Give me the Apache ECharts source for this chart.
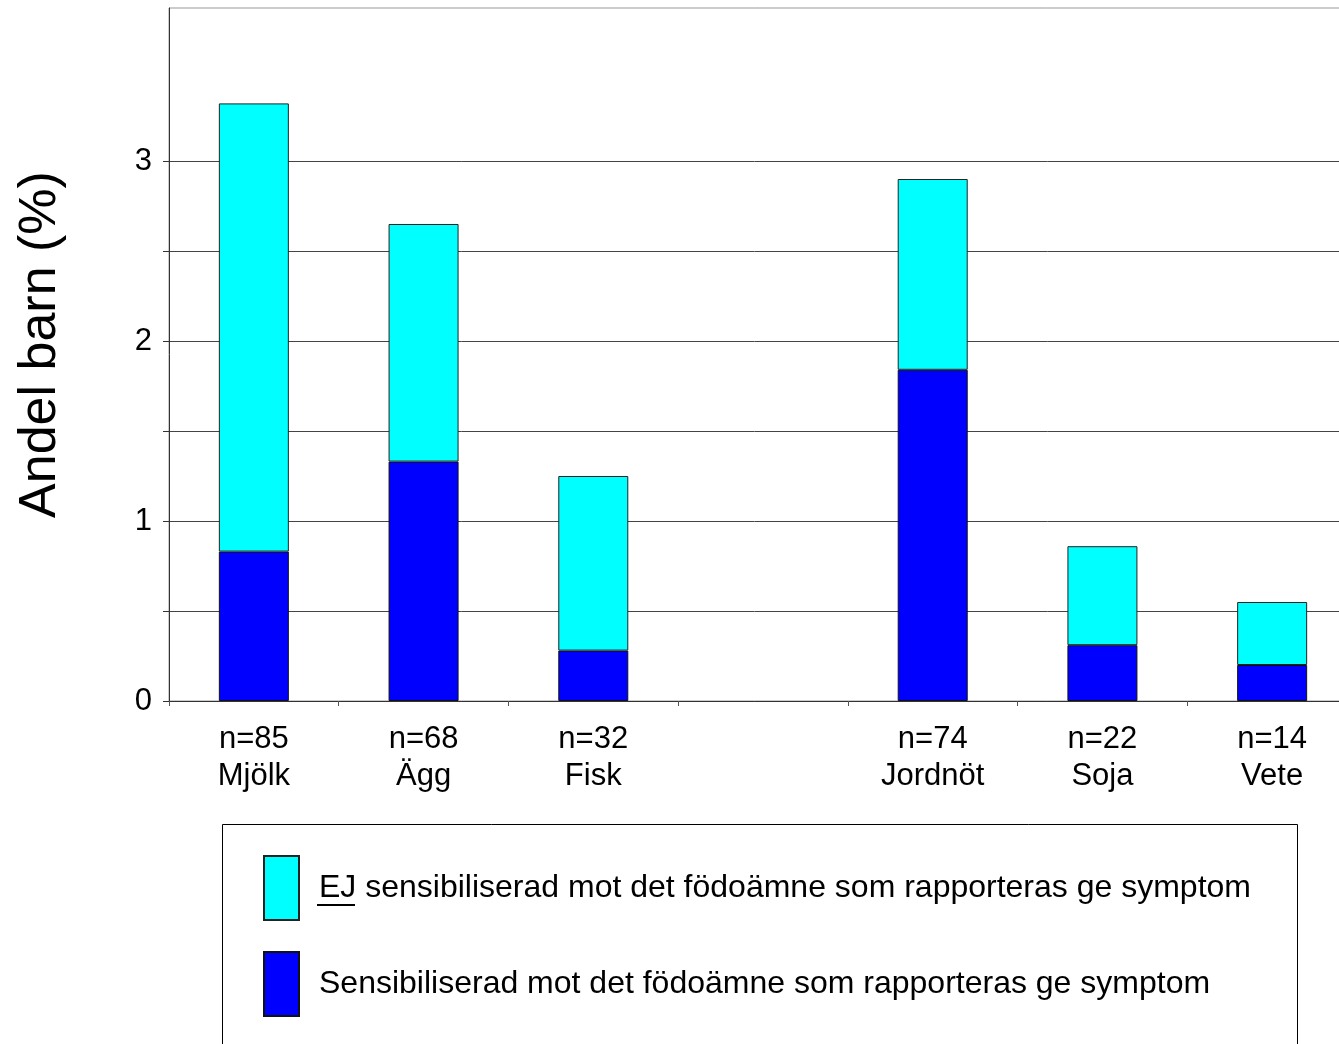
<!DOCTYPE html>
<html>
<head>
<meta charset="utf-8">
<script src="https://cdn.jsdelivr.net/npm/echarts@6/dist/echarts.min.js"></script>
<style>
  html, body { margin: 0; padding: 0; background: #fff; }
  #main { width: 1339px; height: 1044px; }
</style>
</head>
<body>
<div id="main"></div>
<script>
// kategorier (tom plats mellan Fisk och Jordnöt)
const categories = ['Mjölk', 'Ägg', 'Fisk', '', 'Jordnöt', 'Soja', 'Vete'];
const sampleSizes = [85, 68, 32, null, 74, 22, 14];
// andel barn (%), staplade
const sensitized = [0.83, 1.33, 0.28, null, 1.84, 0.31, 0.20];
const notSensitized = [2.49, 1.32, 0.97, null, 1.06, 0.55, 0.35];
const yTickValues = [0, 0.5, 1, 1.5, 2, 2.5, 3];

const nameNot = 'EJ sensibiliserad mot det födoämne som rapporteras ge symptom';
const nameSens = 'Sensibiliserad mot det födoämne som rapporteras ge symptom';

const font = "'Liberation Sans', Arial, sans-serif";

const chart = echarts.init(document.getElementById('main'));

const option = {
  backgroundColor: '#fff',
  animation: false,
  textStyle: { fontFamily: font, color: '#000' },
  grid: {
    show: true,
    left: 169,
    top: 8,
    width: 1188,
    height: 693,
    borderColor: '#999',
    borderWidth: 1,
    backgroundColor: '#fff',
    outerBoundsMode: 'none'
  },
  legend: {
    orient: 'vertical',
    left: 263,
    top: 855,
    padding: 0,
    itemWidth: 35,
    itemHeight: 64,
    itemGap: 30,
    icon: 'rect',
    data: [nameNot, nameSens],
    textStyle: {
      fontFamily: font,
      fontSize: 32,
      color: '#000',
      padding: [4, 0, 0, 15]
    }
  },
  xAxis: {
    type: 'category',
    data: categories,
    axisLine: { lineStyle: { color: '#333', width: 1 } },
    axisTick: { show: true, length: 5, lineStyle: { color: '#555' } },
    axisLabel: {
      interval: 0,
      margin: 20,
      fontFamily: font,
      fontSize: 31,
      lineHeight: 37,
      color: '#000',
      formatter: function (value, idx) {
        if (!value) return '';
        return 'n=' + sampleSizes[idx] + '\n' + value;
      }
    },
    splitLine: { show: false }
  },
  yAxis: {
    type: 'value',
    min: 0,
    max: 3.85,
    interval: 0.5,
    name: 'Andel barn (%)',
    nameLocation: 'middle',
    nameGap: 102,
    nameTextStyle: {
      fontFamily: font,
      fontSize: 52,
      color: '#000',
      padding: [0, 0, 0, 20]
    },
    axisLine: { show: true, lineStyle: { color: '#333', width: 1 } },
    axisTick: {
      show: true,
      length: 6,
      customValues: yTickValues,
      lineStyle: { color: '#333' }
    },
    axisLabel: {
      margin: 17,
      fontFamily: font,
      fontSize: 31,
      color: '#000',
      formatter: function (v) {
        return (Number.isInteger(v) && v <= 3) ? String(v) : '';
      }
    },
    splitLine: {
      show: true,
      lineStyle: {
        width: 1,
        color: ['#444', '#444', '#444', '#444', '#444', '#444', '#444',
                'rgba(0,0,0,0)', 'rgba(0,0,0,0)']
      }
    }
  },
  series: [
    {
      name: nameSens,
      type: 'bar',
      stack: 'andel',
      barWidth: 70,
      data: sensitized,
      itemStyle: { color: '#0000FF', borderColor: '#111', borderWidth: 1 }
    },
    {
      name: nameNot,
      type: 'bar',
      stack: 'andel',
      barWidth: 70,
      data: notSensitized,
      itemStyle: { color: '#00FFFF', borderColor: '#222', borderWidth: 1 }
    }
  ],
  graphic: [
    {
      // ram runt förklaringen
      type: 'rect',
      shape: { x: 222.5, y: 824.5, width: 1075, height: 300 },
      style: { fill: 'none', stroke: '#000', lineWidth: 1 },
      z: -1
    },
    {
      // understrykning av "EJ"
      type: 'line',
      shape: { x1: 317, y1: 905, x2: 355, y2: 905 },
      style: { stroke: '#000', lineWidth: 2 }
    }
  ]
};

chart.setOption(option);
</script>
</body>
</html>
